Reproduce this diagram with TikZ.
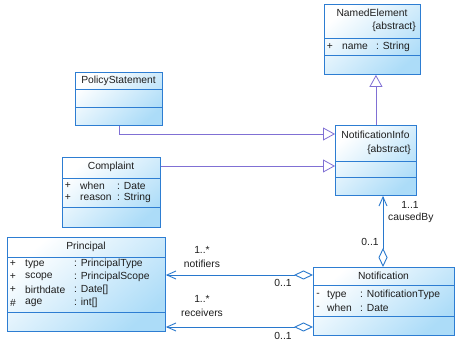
\documentclass[tikz,border=0pt]{standalone}
\usepackage{fontspec}
\setmainfont{Liberation Sans}
\usetikzlibrary{arrows.meta}

\definecolor{umlborder}{RGB}{45,125,210}
\definecolor{umlfill}{RGB}{172,220,248}
\definecolor{genline}{RGB}{128,112,212}
\definecolor{assocline}{RGB}{40,120,205}
\definecolor{umltext}{RGB}{30,30,30}

\tikzset{
  cls/.style={rectangle, draw=umlborder, line width=0.9pt, inner sep=0pt,
    anchor=north west, top color=white, bottom color=umlfill, shading angle=40},
  divider/.style={draw=umlborder, line width=0.9pt},
  txt/.style={inner sep=0pt, font=\fontsize{10.3}{12}\selectfont, text=umltext},
  gen/.style={draw=genline, line width=0.8pt,
    -{Triangle[fill=white, length=12pt, width=13pt]}},
  assoc/.style={draw=assocline, line width=0.9pt},
  barb/.tip={Straight Barb[length=9pt, width=8pt]},
  hollowdiamond/.tip={Diamond[fill=white, length=19pt, width=9pt]},
}

\begin{document}
\begin{tikzpicture}[x=1pt, y=-1pt]
  \useasboundingbox[fill=white] (0,0) rectangle (463,344);

  % NamedElement
  \node[cls, minimum width=96pt, minimum height=70pt] (named) at (324,4) {};
  \draw[divider] (324,38) -- (420,38);
  \draw[divider] (324,55) -- (420,55);
  \node[txt] (namedT) at (372,13) {NamedElement};
  \node[txt, anchor=east] (namedA) at (416,27) {\{abstract\}};
  \node[txt] (namedV1) at (330,47) {+};
  \node[txt, anchor=west] (namedN1) at (342,47) {name};
  \node[txt, anchor=west] (namedY1) at (376,47) {: String};

  % PolicyStatement
  \node[cls, minimum width=87pt, minimum height=53pt] (policy) at (75,72) {};
  \draw[divider] (75,89.5) -- (162,89.5);
  \draw[divider] (75,107) -- (162,107);
  \node[txt] (policyT) at (118.5,80.5) {PolicyStatement};

  % NotificationInfo
  \node[cls, minimum width=81pt, minimum height=70pt] (notinfo) at (335,125) {};
  \draw[divider] (335,161) -- (416,161);
  \draw[divider] (335,177) -- (416,177);
  \node[txt] (notinfoT) at (375.5,135) {NotificationInfo};
  \node[txt, anchor=east] (notinfoA) at (411,150) {\{abstract\}};

  % Complaint
  \node[cls, minimum width=98pt, minimum height=70pt] (complaint) at (62,157) {};
  \draw[divider] (62,178) -- (160,178);
  \draw[divider] (62,207) -- (160,207);
  \node[txt] (complaintT) at (111,166.5) {Complaint};
  \node[txt] (complaintV1) at (68,186) {+};
  \node[txt, anchor=west] (complaintN1) at (80,186) {when};
  \node[txt, anchor=west] (complaintY1) at (117,186) {: Date};
  \node[txt] (complaintV2) at (68,198) {+};
  \node[txt, anchor=west] (complaintN2) at (80,198) {reason};
  \node[txt, anchor=west] (complaintY2) at (117,198) {: String};

  % Principal
  \node[cls, minimum width=158pt, minimum height=94pt] (principal) at (7,237) {};
  \draw[divider] (7,257) -- (165,257);
  \draw[divider] (7,312) -- (165,312);
  \node[txt] (principalT) at (86,246.5) {Principal};
  \node[txt] (principalV1) at (13,264) {+};
  \node[txt, anchor=west] (principalN1) at (25,264) {type};
  \node[txt, anchor=west] (principalY1) at (74,264) {: PrincipalType};
  \node[txt] (principalV2) at (13,277) {+};
  \node[txt, anchor=west] (principalN2) at (25,277) {scope};
  \node[txt, anchor=west] (principalY2) at (74,277) {: PrincipalScope};
  \node[txt] (principalV3) at (13,290) {+};
  \node[txt, anchor=west] (principalN3) at (25,290) {birthdate};
  \node[txt, anchor=west] (principalY3) at (74,290) {: Date[]};
  \node[txt] (principalV4) at (13,303) {\#};
  \node[txt, anchor=west] (principalN4) at (25,303) {age};
  \node[txt, anchor=west] (principalY4) at (74,303) {: int[]};

  % Notification
  \node[cls, minimum width=141pt, minimum height=68pt] (notification) at (313,267) {};
  \draw[divider] (313,285) -- (454,285);
  \draw[divider] (313,316) -- (454,316);
  \node[txt] (notificationT) at (383.5,276) {Notification};
  \node[txt] (notificationV1) at (318,295) {-};
  \node[txt, anchor=west] (notificationN1) at (327,295) {type};
  \node[txt, anchor=west] (notificationY1) at (360,295) {: NotificationType};
  \node[txt] (notificationV2) at (318,308) {-};
  \node[txt, anchor=west] (notificationN2) at (327,308) {when};
  \node[txt, anchor=west] (notificationY2) at (360,308) {: Date};

  % Generalizations
  \draw[gen] (policy.south) |- ([yshift=-9pt]notinfo.north west);
  \draw[gen] ([yshift=-9pt]complaint.north east) coordinate (cg) -- (notinfo.west |- cg);
  \draw[gen] (notinfo.north) -- (named.south -| notinfo.north);

  % Associations
  \draw[assoc, barb-hollowdiamond] (notinfo.south -| 383,0) coordinate (cbtop) -- (notification.north -| cbtop);
  \draw[assoc, barb-hollowdiamond] (principal.east |- 0,275) coordinate (nfl) -- (notification.west |- nfl);
  \draw[assoc, barb-hollowdiamond] (principal.east |- 0,327) coordinate (rcl) -- (notification.west |- rcl);

  % Association labels
  \node[txt] (cbMult1) at (410,205) {1..1};
  \node[txt, anchor=west] (cbRole) at (388,218) {causedBy};
  \node[txt] (cbMult2) at (370,242) {0..1};
  \node[txt] (nfMult1) at (202,250) {1..*};
  \node[txt] (nfRole) at (202,264) {notifiers};
  \node[txt] (nfMult2) at (283,283) {0..1};
  \node[txt] (rcMult1) at (202,299) {1..*};
  \node[txt] (rcRole) at (202,313) {receivers};
  \node[txt] (rcMult2) at (283,336) {0..1};
\end{tikzpicture}
\end{document}
